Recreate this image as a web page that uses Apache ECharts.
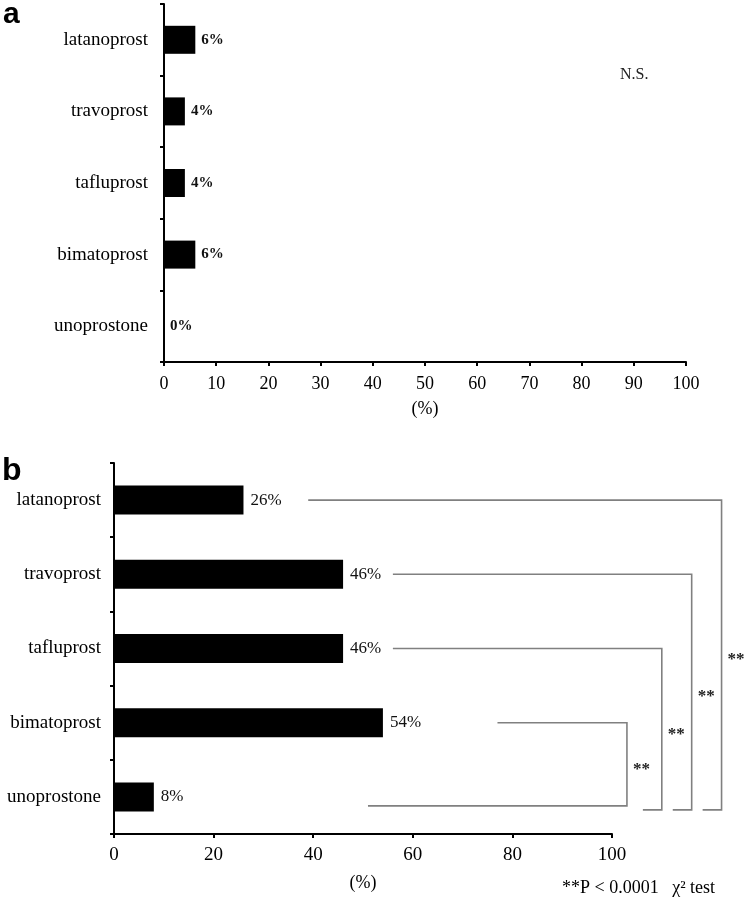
<!DOCTYPE html>
<html>
<head>
<meta charset="utf-8">
<script src="https://cdn.jsdelivr.net/npm/echarts@6/dist/echarts.min.js"></script>
<style>
  html, body { margin: 0; padding: 0; background: #fff; }
  #chart { width: 744px; height: 903px; }
</style>
</head>
<body>
<div id="chart"></div>
<script>
const categories = ['latanoprost', 'travoprost', 'tafluprost', 'bimatoprost', 'unoprostone']
const valuesA = [6, 4, 4, 6, 0]   // panel a, %
const valuesB = [26, 46, 46, 54, 8]  // panel b, %

// significance brackets of panel b (x in % units, beyond the axis end)
const bracketTop = ['latanoprost', 'travoprost', 'tafluprost', 'bimatoprost']
const bracketBottom = 'unoprostone'
const bracketArmStart = [39, 56, 56, 77]
const bracketEdge = [122, 116, 110, 103]
const bracketFootStart = [118.2, 112.2, 106.2, 51]
const bracketFootDrop = [13, 13, 13, 9]
const bracketMark = '**'

const serif = '"Liberation Serif", "Times New Roman", serif'
const black = '#000'
const bracketColor = '#808080'

const chart = echarts.init(document.getElementById('chart'))

const axisLine = { show: true, lineStyle: { color: black, width: 2 } }
const axisTick = { show: true, length: 4, lineStyle: { color: black, width: 2 } }

const option = {
  animation: false,
  backgroundColor: '#fff',
  textStyle: { fontFamily: serif, color: black },
  grid: [
    { left: 164, right: 58, top: 4, bottom: 541 },
    { left: 114, right: 132, top: 463, bottom: 69 },
  ],
  xAxis: [
    {
      gridIndex: 0,
      type: 'value',
      min: 0,
      max: 100,
      interval: 10,
      splitLine: { show: false },
      axisLine,
      axisTick,
      axisLabel: { margin: 13, fontSize: 18, fontFamily: serif, color: black },
      name: '(%)',
      nameLocation: 'middle',
      nameGap: 38,
      nameTextStyle: { fontSize: 18, fontFamily: serif, color: black },
    },
    {
      gridIndex: 1,
      type: 'value',
      min: 0,
      max: 100,
      interval: 20,
      splitLine: { show: false },
      axisLine,
      axisTick,
      axisLabel: { margin: 12, fontSize: 19, fontFamily: serif, color: black },
      name: '(%)',
      nameLocation: 'middle',
      nameGap: 40,
      nameTextStyle: { fontSize: 18, fontFamily: serif, color: black },
    },
  ],
  yAxis: [
    {
      gridIndex: 0,
      type: 'category',
      inverse: true,
      data: categories,
      axisLine,
      axisTick,
      axisLabel: { margin: 16, fontSize: 19, fontFamily: serif, color: black },
    },
    {
      gridIndex: 1,
      type: 'category',
      inverse: true,
      data: categories,
      axisLine,
      axisTick,
      axisLabel: { margin: 13, fontSize: 19, fontFamily: serif, color: black },
    },
  ],
  series: [
    {
      type: 'bar',
      xAxisIndex: 0,
      yAxisIndex: 0,
      barWidth: 28,
      itemStyle: { color: black },
      label: {
        show: true,
        position: 'right',
        distance: 6,
        fontSize: 15,
        fontWeight: 'bold',
        fontFamily: serif,
        color: '#111',
        formatter: p => p.value + '%',
      },
      data: valuesA,
    },
    {
      type: 'bar',
      xAxisIndex: 1,
      yAxisIndex: 1,
      barWidth: 29,
      itemStyle: { color: black },
      label: {
        show: true,
        position: 'right',
        distance: 7,
        fontSize: 17,
        fontFamily: serif,
        color: '#111',
        formatter: p => p.value + '%',
      },
      data: valuesB,
    },
  ],
}

chart.setOption(option)

// panel letters, notes and brackets
const toPx = (v, cat) => chart.convertToPixel({ gridIndex: 1 }, [v, categories.indexOf(cat)])
const graphics = [
  { type: 'text', left: 3, top: 0, style: { text: 'a', font: 'bold 30px "Liberation Sans", Arial, sans-serif', fill: black } },
  { type: 'text', left: 2, top: 455, style: { text: 'b', font: 'bold 32px "Liberation Sans", Arial, sans-serif', fill: black } },
  { type: 'text', left: 620, top: 67, style: { text: 'N.S.', font: '16px ' + serif, fill: '#222' } },
  { type: 'text', left: 562, top: 879, style: { text: '**P < 0.0001   \u03C7\u00B2 test', font: '18px ' + serif, fill: black } },
]

bracketTop.forEach((cat, i) => {
  const a = toPx(bracketArmStart[i], cat)
  const e = toPx(bracketEdge[i], cat)
  const bottomY = toPx(bracketEdge[i], bracketBottom)[1] + bracketFootDrop[i]
  const f = toPx(bracketFootStart[i], bracketBottom)
  graphics.push({
    type: 'polyline',
    shape: { points: [[a[0], a[1]], [e[0], e[1]], [e[0], bottomY], [f[0], bottomY]] },
    style: { stroke: bracketColor, lineWidth: 1.6, fill: null },
  })
  graphics.push({
    type: 'text',
    x: e[0] + 6,
    y: (e[1] + bottomY) / 2 + 5,
    style: { text: bracketMark, font: 'bold 17px ' + serif, fill: '#222', textVerticalAlign: 'middle' },
  })
})

chart.setOption({ graphic: graphics })
</script>
</body>
</html>
